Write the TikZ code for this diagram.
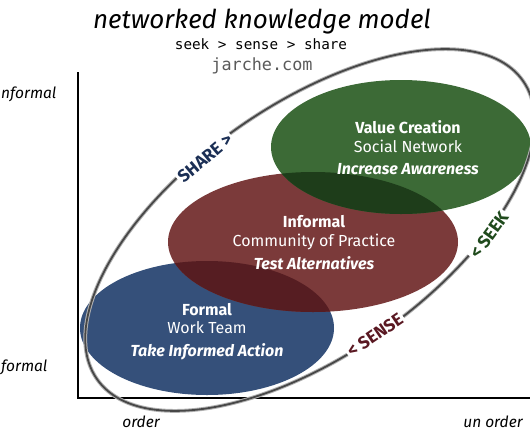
\documentclass[tikz,border=0pt]{standalone}
\usepackage{fontspec}
\setmainfont{Fira Sans}
\newfontfamily\monofont{DejaVu Sans Mono}
\definecolor{gfill}{HTML}{3C6A36}
\definecolor{gdark}{HTML}{1E3D1A}
\definecolor{rfill}{HTML}{7B3A3A}
\definecolor{rdark}{HTML}{561D22}
\definecolor{bfill}{HTML}{35507A}
\definecolor{sharec}{HTML}{1B2F55}
\definecolor{seekc}{HTML}{1F4A1C}
\definecolor{sensec}{HTML}{5A1822}
\definecolor{webgray}{HTML}{5A5A5A}
\tikzset{
  eltitle/.style={text=white, anchor=base, font=\fontsize{16}{19}\selectfont\bfseries},
  elsub/.style={text=white, anchor=base, font=\fontsize{16}{19}\selectfont},
  elact/.style={text=white, anchor=base, font=\fontsize{16}{19}\selectfont\bfseries\itshape},
  axlabel/.style={anchor=base, font=\fontsize{15.5}{18}\selectfont\itshape},
  looplabel/.style={fill=white, inner xsep=2pt, inner ysep=1pt, font=\fontsize{17.5}{20}\selectfont\bfseries},
  loophalo/.style={draw=black!30, line width=3.8pt},
  loopline/.style={draw=black!72, line width=1.8pt},
  axisline/.style={draw=black, line width=2.2pt},
}
\begin{document}
\begin{tikzpicture}[x=1pt,y=-1pt]
\useasboundingbox (0,0) rectangle (530,442);
\clip (0,0) rectangle (530,442);
% titles
\node[anchor=base, font=\fontsize{26}{30}\selectfont\itshape] (title) at (262,28) {networked knowledge model};
\node[anchor=base, font=\monofont\fontsize{14.3}{17}\selectfont] (sub) at (261,49) {seek > sense > share};
\node[anchor=base, text=webgray, font=\monofont\fontsize{16.8}{20}\selectfont] (web) at (262,70) {jarche.com};
% ellipses
\fill[bfill] (207,328) ellipse [x radius=127, y radius=67];
\fill[rfill] (313,242) ellipse [x radius=145, y radius=70];
\begin{scope}
  \clip (207,328) ellipse [x radius=127, y radius=67];
  \fill[rdark] (313,242) ellipse [x radius=145, y radius=70];
\end{scope}
\fill[gfill] (401,147) ellipse [x radius=130, y radius=67];
\begin{scope}
  \clip (313,242) ellipse [x radius=145, y radius=70];
  \fill[gdark] (401,147) ellipse [x radius=130, y radius=67];
\end{scope}
% axes
\coordinate (ytop) at (78,72);
\coordinate (orig) at (78,398);
\coordinate (xend) at (532,398);
\draw[axisline] (ytop) -- (orig) -- (xend);
% loop
\draw[loophalo, rotate around={35:(310,230)}] (310,230) ellipse [x radius=260, y radius=125];
\draw[loopline, rotate around={35:(310,230)}] (310,230) ellipse [x radius=260, y radius=125];
\node[looplabel, text=sharec, rotate=40] (share) at (205,158) {SHARE >};
\node[looplabel, text=seekc, rotate=54] (seek) at (489,235) {< SEEK};
\node[looplabel, text=sensec, rotate=34] (sense) at (375,335) {< SENSE};
% ellipse texts
\node[eltitle] (vc) at (408,133.5) {Value Creation};
\node[elsub] (sn) at (408,152.5) {Social Network};
\node[elact] (ia) at (408,174.5) {Increase Awareness};
\node[eltitle] (inf) at (314,227.5) {Informal};
\node[elsub] (cop) at (314,246.5) {Community of Practice};
\node[elact] (ta) at (314,269.5) {Test Alternatives};
\node[eltitle] (fo) at (207,315.5) {Formal};
\node[elsub] (wt) at (207,333.5) {Work Team};
\node[elact] (tia) at (207,356.5) {Take Informed Action};
% axis labels
\node[axlabel, anchor=base west, inner xsep=0pt] (yinf) at (1,98) {nformal};
\node[axlabel, anchor=base west, inner xsep=0pt] (yfor) at (1,371) {formal};
\node[axlabel] (xord) at (141,427) {order};
\node[axlabel] (xun) at (493,427) {un order};
\end{tikzpicture}
\end{document}
